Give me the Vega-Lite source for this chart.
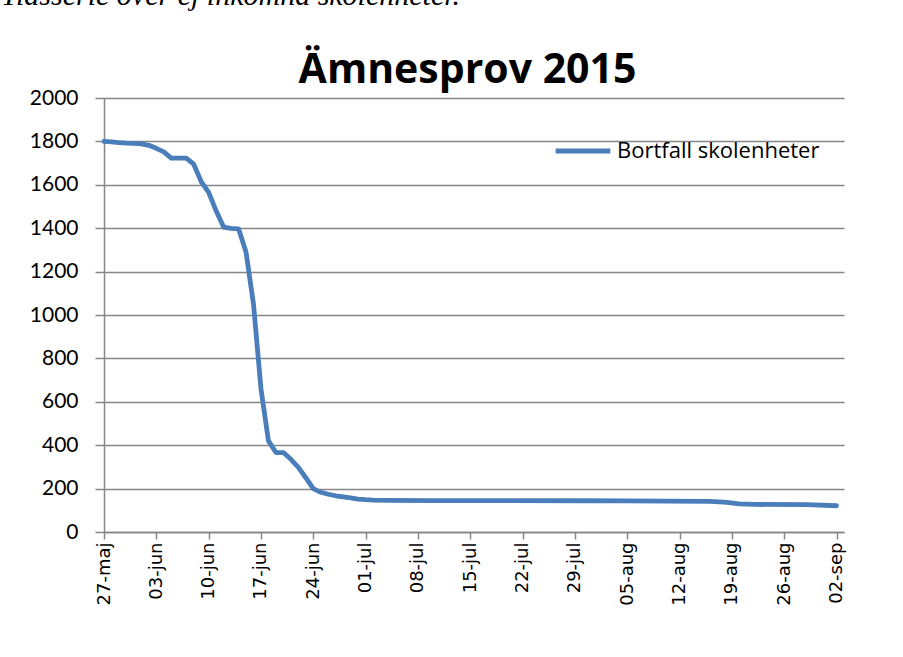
{
  "$schema": "https://vega.github.io/schema/vega-lite/v6.json",
  "autosize": {"type": "none"},
  "padding": {"left": 104, "top": 98, "right": 59, "bottom": 125},
  "width": 740,
  "height": 434,
  "background": "white",
  "config": {"view": {"stroke": null}},
  "title": {
    "text": "Tidsserie över ej inkomna skolenheter.",
    "anchor": "start",
    "frame": "group",
    "font": "Liberation Serif",
    "fontStyle": "italic",
    "fontWeight": "normal",
    "fontSize": 30,
    "color": "black",
    "baseline": "alphabetic",
    "offset": 0,
    "dx": -103,
    "dy": -14
  },
  "data": {
    "values": [
      {"date": "2015-05-27", "value": 1800, "serie": "Bortfall skolenheter"},
      {"date": "2015-05-28", "value": 1798, "serie": "Bortfall skolenheter"},
      {"date": "2015-05-29", "value": 1794, "serie": "Bortfall skolenheter"},
      {"date": "2015-05-30", "value": 1792, "serie": "Bortfall skolenheter"},
      {"date": "2015-05-31", "value": 1791, "serie": "Bortfall skolenheter"},
      {"date": "2015-06-01", "value": 1789, "serie": "Bortfall skolenheter"},
      {"date": "2015-06-02", "value": 1782, "serie": "Bortfall skolenheter"},
      {"date": "2015-06-03", "value": 1768, "serie": "Bortfall skolenheter"},
      {"date": "2015-06-04", "value": 1752, "serie": "Bortfall skolenheter"},
      {"date": "2015-06-05", "value": 1723, "serie": "Bortfall skolenheter"},
      {"date": "2015-06-06", "value": 1723, "serie": "Bortfall skolenheter"},
      {"date": "2015-06-07", "value": 1723, "serie": "Bortfall skolenheter"},
      {"date": "2015-06-08", "value": 1695, "serie": "Bortfall skolenheter"},
      {"date": "2015-06-09", "value": 1615, "serie": "Bortfall skolenheter"},
      {"date": "2015-06-10", "value": 1565, "serie": "Bortfall skolenheter"},
      {"date": "2015-06-11", "value": 1480, "serie": "Bortfall skolenheter"},
      {"date": "2015-06-12", "value": 1405, "serie": "Bortfall skolenheter"},
      {"date": "2015-06-13", "value": 1399, "serie": "Bortfall skolenheter"},
      {"date": "2015-06-14", "value": 1397, "serie": "Bortfall skolenheter"},
      {"date": "2015-06-15", "value": 1290, "serie": "Bortfall skolenheter"},
      {"date": "2015-06-16", "value": 1050, "serie": "Bortfall skolenheter"},
      {"date": "2015-06-17", "value": 660, "serie": "Bortfall skolenheter"},
      {"date": "2015-06-18", "value": 420, "serie": "Bortfall skolenheter"},
      {"date": "2015-06-19", "value": 366, "serie": "Bortfall skolenheter"},
      {"date": "2015-06-20", "value": 366, "serie": "Bortfall skolenheter"},
      {"date": "2015-06-21", "value": 335, "serie": "Bortfall skolenheter"},
      {"date": "2015-06-22", "value": 298, "serie": "Bortfall skolenheter"},
      {"date": "2015-06-23", "value": 250, "serie": "Bortfall skolenheter"},
      {"date": "2015-06-24", "value": 200, "serie": "Bortfall skolenheter"},
      {"date": "2015-06-25", "value": 183, "serie": "Bortfall skolenheter"},
      {"date": "2015-06-26", "value": 174, "serie": "Bortfall skolenheter"},
      {"date": "2015-06-27", "value": 167, "serie": "Bortfall skolenheter"},
      {"date": "2015-06-28", "value": 162, "serie": "Bortfall skolenheter"},
      {"date": "2015-06-29", "value": 157, "serie": "Bortfall skolenheter"},
      {"date": "2015-06-30", "value": 152, "serie": "Bortfall skolenheter"},
      {"date": "2015-07-01", "value": 149, "serie": "Bortfall skolenheter"},
      {"date": "2015-07-02", "value": 147, "serie": "Bortfall skolenheter"},
      {"date": "2015-07-04", "value": 146, "serie": "Bortfall skolenheter"},
      {"date": "2015-07-10", "value": 145, "serie": "Bortfall skolenheter"},
      {"date": "2015-07-20", "value": 145, "serie": "Bortfall skolenheter"},
      {"date": "2015-07-30", "value": 144, "serie": "Bortfall skolenheter"},
      {"date": "2015-08-05", "value": 143, "serie": "Bortfall skolenheter"},
      {"date": "2015-08-10", "value": 142, "serie": "Bortfall skolenheter"},
      {"date": "2015-08-16", "value": 141, "serie": "Bortfall skolenheter"},
      {"date": "2015-08-18", "value": 138, "serie": "Bortfall skolenheter"},
      {"date": "2015-08-20", "value": 130, "serie": "Bortfall skolenheter"},
      {"date": "2015-08-22", "value": 127, "serie": "Bortfall skolenheter"},
      {"date": "2015-08-29", "value": 126, "serie": "Bortfall skolenheter"},
      {"date": "2015-09-02", "value": 121, "serie": "Bortfall skolenheter"}
    ]
  },
  "mark": {"type": "line", "strokeWidth": 4.8, "strokeCap": "round", "strokeJoin": "round"},
  "encoding": {
    "x": {
      "field": "date",
      "type": "temporal",
      "scale": {
        "type": "utc",
        "domain": [
          {"year": 2015, "month": 5, "date": 27, "utc": true},
          {"year": 2015, "month": 9, "date": 3, "utc": true}
        ],
        "nice": false
      },
      "axis": {
        "title": null,
        "grid": false,
        "values": [
          {"year": 2015, "month": 5, "date": 27, "utc": true},
          {"year": 2015, "month": 6, "date": 3, "utc": true},
          {"year": 2015, "month": 6, "date": 10, "utc": true},
          {"year": 2015, "month": 6, "date": 17, "utc": true},
          {"year": 2015, "month": 6, "date": 24, "utc": true},
          {"year": 2015, "month": 7, "date": 1, "utc": true},
          {"year": 2015, "month": 7, "date": 8, "utc": true},
          {"year": 2015, "month": 7, "date": 15, "utc": true},
          {"year": 2015, "month": 7, "date": 22, "utc": true},
          {"year": 2015, "month": 7, "date": 29, "utc": true},
          {"year": 2015, "month": 8, "date": 5, "utc": true},
          {"year": 2015, "month": 8, "date": 12, "utc": true},
          {"year": 2015, "month": 8, "date": 19, "utc": true},
          {"year": 2015, "month": 8, "date": 26, "utc": true},
          {"year": 2015, "month": 9, "date": 2, "utc": true}
        ],
        "labelExpr": "utcFormat(datum.value, '%d') + '-' + ['jan','feb','mar','apr','maj','jun','jul','aug','sep','okt','nov','dec'][utcmonth(datum.value)]",
        "labelAngle": -90,
        "labelAlign": "right",
        "labelBaseline": "middle",
        "labelFont": "DejaVu Sans",
        "labelFontSize": 18,
        "labelColor": "black",
        "labelPadding": 3,
        "labelOverlap": false,
        "labelFlush": false,
        "domainColor": "#868686",
        "domainWidth": 1.5,
        "tickColor": "#868686",
        "tickWidth": 1.5,
        "tickSize": 7
      }
    },
    "y": {
      "field": "value",
      "type": "quantitative",
      "scale": {"domain": [0, 2000], "nice": false},
      "axis": {
        "title": "Ämnesprov 2015",
        "titleAngle": 0,
        "titleAlign": "center",
        "titleBaseline": "alphabetic",
        "titleX": 363,
        "titleY": -16,
        "titleFont": "Open Sans",
        "titleFontWeight": "bold",
        "titleFontSize": 41,
        "titleColor": "black",
        "values": [0, 200, 400, 600, 800, 1000, 1200, 1400, 1600, 1800, 2000],
        "format": "d",
        "labelFont": "Lato",
        "labelFontSize": 21,
        "labelColor": "black",
        "labelPadding": 17,
        "tickSize": 9,
        "tickColor": "#868686",
        "tickWidth": 1.5,
        "domainColor": "#868686",
        "domainWidth": 1.5,
        "gridColor": "#868686",
        "gridWidth": 1.5,
        "labelFlush": false
      }
    },
    "color": {
      "field": "serie",
      "type": "nominal",
      "scale": {"range": ["#4A7EBB"]},
      "legend": {
        "title": null,
        "orient": "none",
        "legendX": 449,
        "legendY": 23,
        "symbolType": "stroke",
        "symbolSize": 3000,
        "symbolStrokeWidth": 4.8,
        "labelFont": "Open Sans",
        "labelFontSize": 22,
        "labelLimit": 0,
        "labelColor": "black",
        "labelOffset": 4
      }
    }
  }
}
